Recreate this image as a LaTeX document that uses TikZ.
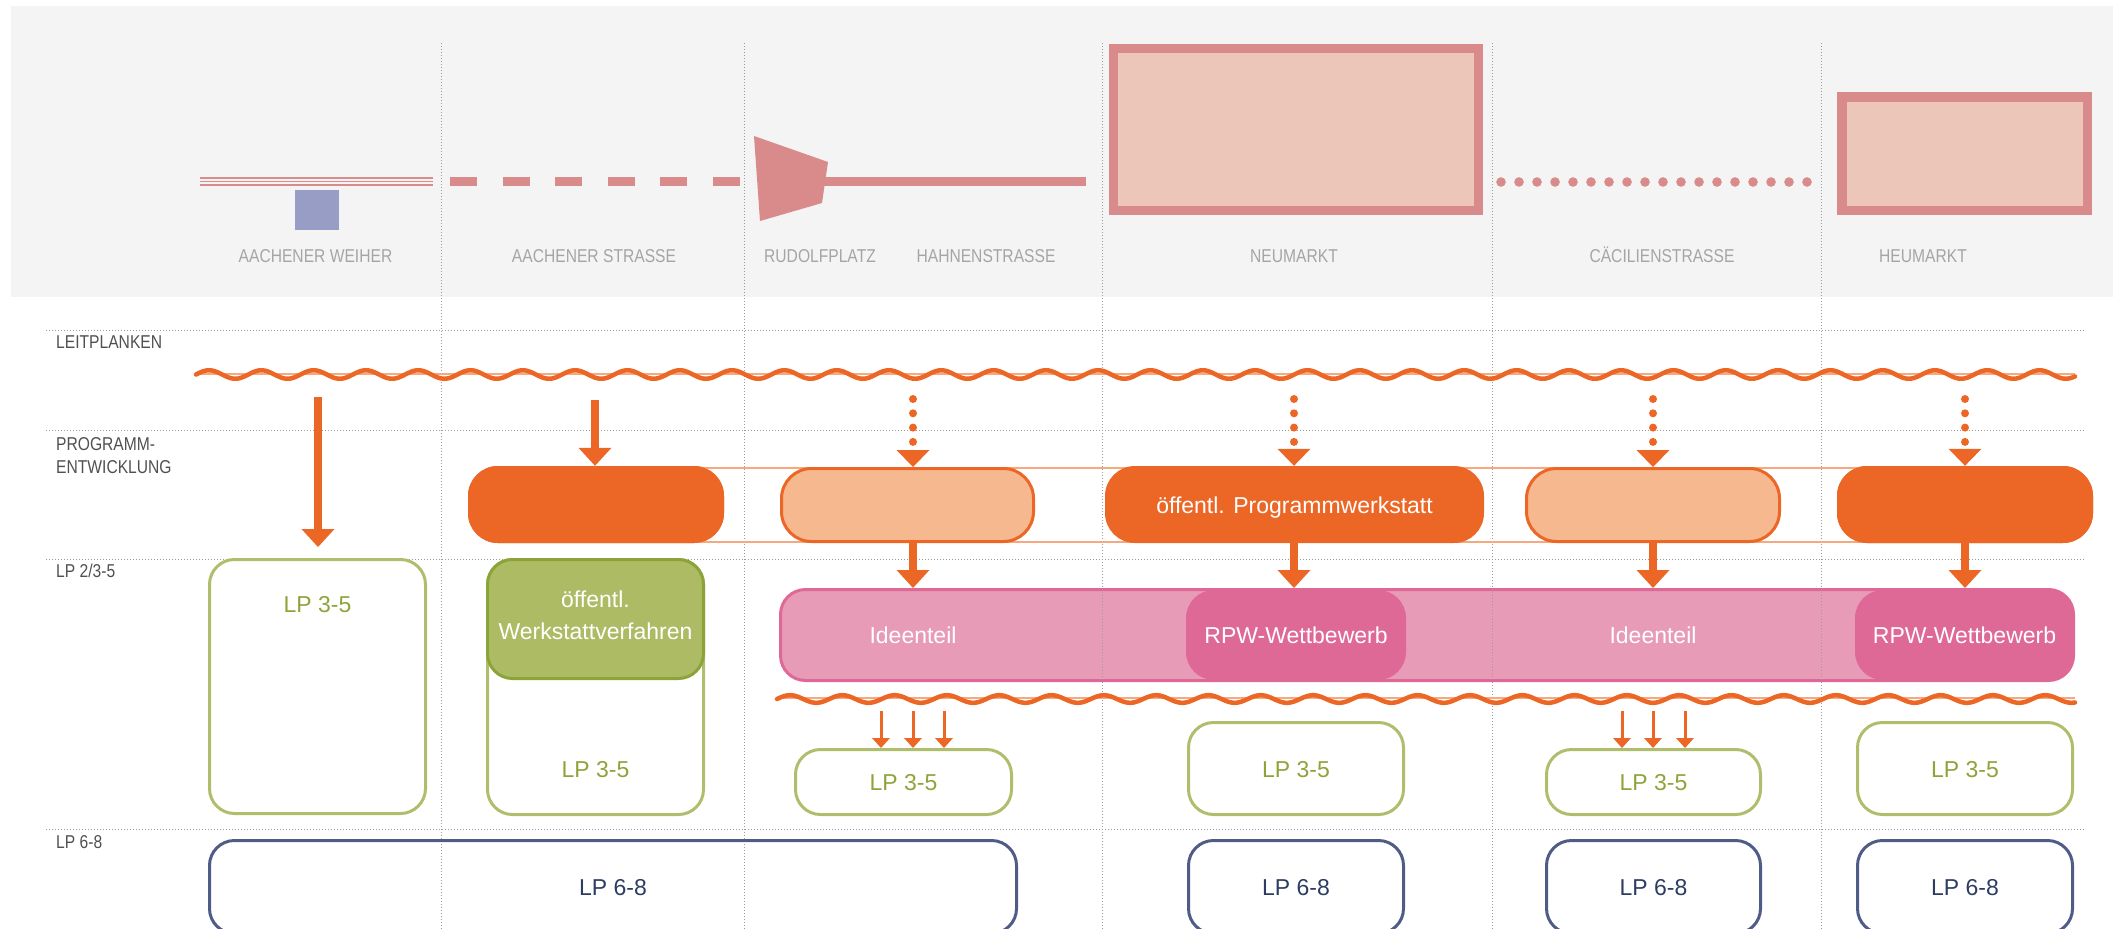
\documentclass[tikz,border=0pt]{standalone}
\usepackage{fontspec}
\setmainfont{Liberation Sans}
\newfontfamily\condfont{Liberation Sans}[FakeStretch=0.84]
\usetikzlibrary{arrows.meta}
\definecolor{cOr}{HTML}{EC6726}
\definecolor{cOrL}{HTML}{F6B88F}
\definecolor{cOrLine}{HTML}{F6A97E}
\definecolor{cPkL}{HTML}{E89BB6}
\definecolor{cPkD}{HTML}{DF6996}
\definecolor{cGrL}{HTML}{AFBE6C}
\definecolor{cGrF}{HTML}{AEBB65}
\definecolor{cGrD}{HTML}{8CA33A}
\definecolor{cGrT}{HTML}{8EA43A}
\definecolor{cNv}{HTML}{4F5C85}
\definecolor{cNvT}{HTML}{2D3C62}
\definecolor{cSal}{HTML}{D98A8A}
\definecolor{cSalF}{HTML}{EBC6B9}
\definecolor{cBlu}{HTML}{989DC5}
\definecolor{cBg}{HTML}{F4F4F4}
\definecolor{cGreyT}{HTML}{A5A5A5}
\definecolor{cGrid}{HTML}{9A9A9A}
\definecolor{cRow}{HTML}{505050}
\tikzset{
 boxtxt/.style={font=\fontsize{23}{27}\selectfont, text height=17pt, text depth=0pt, inner sep=0pt},
 obox/.style={boxtxt, fill=cOr, text=white, rounded corners=30pt, minimum height=77pt},
 lbox/.style={fill=cOrL, draw=cOr, line width=3pt, rounded corners=30pt, minimum height=73pt, inner sep=0pt},
 gbox/.style={boxtxt, draw=cGrL, line width=3pt, rounded corners=25pt, text=cGrT},
 nbox/.style={boxtxt, draw=cNv, line width=3pt, rounded corners=25pt, text=cNvT, minimum height=93pt},
 rpw/.style={boxtxt, fill=cPkD, text=white, rounded corners=28pt, minimum height=90pt},
 freetxt/.style={font=\fontsize{23}{27}\selectfont, inner sep=0pt, anchor=base},
 caplbl/.style={font=\condfont\fontsize{18.6}{22}\selectfont, text=cGreyT, anchor=base, inner sep=0pt},
 rowlbl/.style={font=\condfont\fontsize{18.6}{22}\selectfont, text=cRow, anchor=base west, inner sep=0pt},
 bigarr/.style={draw=cOr, line width=7.5pt, -{Triangle[length=18pt,width=33pt,line width=0pt]}},
 dotarr/.style={draw=cOr, line width=8pt, line cap=round, dash pattern=on 0pt off 14.3pt, -{Triangle[length=17pt,width=33pt,line width=0pt]}},
 smarr/.style={draw=cOr, line width=3pt, -{Triangle[length=10pt,width=18pt,line width=0pt]}},
 gridln/.style={draw=cGrid, line width=1pt, dash pattern=on 1pt off 2pt},
 railline/.style={draw=cOrLine, line width=1.5pt},
}
\begin{document}
\begin{tikzpicture}[x=1pt,y=-1pt]
\useasboundingbox (0,0) rectangle (2113,929);
% background of the top strip
\fill[cBg] (11,6) rectangle (2113,297);
% top graphics
\foreach \yy in {177.7,181.3,184.7} \draw[cSal, line width=1.6pt] (200,\yy) -- (433,\yy);
\fill[cBlu] (295,190) rectangle (339,230);
\draw[cSal, line width=9pt, dash pattern=on 27pt off 25.6pt] (450,181.5) -- (740,181.5);
\fill[cSal] (754,136) -- (828,162) -- (822,203) -- (760,221) -- cycle;
\fill[cSal] (822,177) rectangle (1086,186);
\draw[cSal, fill=cSalF, line width=9pt] (1113.5,48.5) rectangle (1478.5,210.5);
\foreach \i in {0,...,17} \fill[cSal] (1501+18*\i,182) circle (4.8pt);
\draw[cSal, fill=cSalF, line width=9.5pt] (1841.75,96.75) rectangle (2087.25,210.25);
% top labels
\node[caplbl] (t1) at (315.5,262) {AACHENER WEIHER};
\node[caplbl] (t2) at (594,262) {AACHENER STRASSE};
\node[caplbl] (t3) at (820,262) {RUDOLFPLATZ};
\node[caplbl] (t4) at (986,262) {HAHNENSTRASSE};
\node[caplbl] (t5) at (1294,262) {NEUMARKT};
\node[caplbl] (t6) at (1662,262) {CÄCILIENSTRASSE};
\node[caplbl] (t7) at (1923,262) {HEUMARKT};
% band
\node[fill=cPkL, draw=cPkD, line width=3pt, rounded corners=25pt, minimum width=1293pt, minimum height=91pt, inner sep=0pt] (band) at (1427,635) {};
\node[rpw, minimum width=220pt] (r1) at (1296,635) {RPW-Wettbewerb};
\node[rpw, minimum width=219pt] (r2) at (1964.5,635) {RPW-Wettbewerb};
% grid
\foreach \xx in {441,744,1102,1492,1821} \draw[gridln] (\xx,43) -- (\xx,929);
\foreach \yy in {330,430,559,829} \draw[gridln] (46,\yy) -- (2085,\yy);
% rails (waves)
\draw[railline] (196,374) -- (2075,374);
\draw[cOr, line width=4.5pt, line cap=round, line join=round] plot[domain=196:2075, samples=900] (\x, {374.5-4.25*sin(((\x-196)/52.3)*360)});
\draw[railline] (777,698) -- (2075,698);
\draw[cOr, line width=4.5pt, line cap=round, line join=round] plot[domain=777:2075, samples=700] (\x, {699-3.8*sin(((\x-777)/52.3)*360)});
% programme boxes
\node[obox, minimum width=256pt] (o1) at (596,504.5) {};
\node[obox, minimum width=256pt] (o3) at (1965,504.5) {};
\draw[railline] ([yshift=-2pt]o1.north) -- ([yshift=-2pt]o3.north);
\draw[railline] ([yshift=1pt]o1.south) -- ([yshift=1pt]o3.south);
\node[obox, minimum width=256pt] at (o1) {};
\node[obox, minimum width=256pt] at (o3) {};
\node[lbox, minimum width=252pt] (l1) at (907.5,505) {};
\node[obox, minimum width=379pt] (nm) at (1294.5,504.5) {öffentl. Programmwerkstatt};
\node[lbox, minimum width=253pt] (l2) at (1653,505) {};
% LP 2/3-5 boxes
\node[gbox, minimum width=216pt, minimum height=254pt] (g1) at (317.5,686.5) {};
\node[freetxt, text=cGrT] (g1t) at (317.5,612) {LP 3-5};
\node[gbox, minimum width=216pt, minimum height=255pt] (g2) at (595.5,687) {};
\node[freetxt, text=cGrT] (g2t) at (595.5,777) {LP 3-5};
\node[fill=cGrF, draw=cGrD, line width=3pt, rounded corners=25pt, minimum width=216pt, minimum height=119pt, inner sep=0pt] (gf) at (595.5,619) {};
\node[freetxt, text=white] (gf1) at (595.5,607) {öffentl.};
\node[freetxt, text=white] (gf2) at (595.5,639) {Werkstattverfahren};
\node[boxtxt, text=white] (i1) at (913,635) {Ideenteil};
\node[boxtxt, text=white] (i2) at (1653,635) {Ideenteil};
\node[gbox, minimum width=216pt, minimum height=65pt] (s1) at (903.5,782) {LP 3-5};
\node[gbox, minimum width=215pt, minimum height=92pt] (g3) at (1296,768.5) {LP 3-5};
\node[gbox, minimum width=214pt, minimum height=65pt] (s2) at (1653.5,782) {LP 3-5};
\node[gbox, minimum width=215pt, minimum height=92pt] (g4) at (1965,768.5) {LP 3-5};
% LP 6-8 boxes
\node[nbox, minimum width=807pt] (n1) at (613,887) {LP 6-8};
\node[nbox, minimum width=215pt] (n2) at (1296,887) {LP 6-8};
\node[nbox, minimum width=214pt] (n3) at (1653.5,887) {LP 6-8};
\node[nbox, minimum width=215pt] (n4) at (1965,887) {LP 6-8};
% arrow start points on the rails
\coordinate (w1) at (318,397);
\coordinate (w2) at (595,400);
\coordinate (w3) at (913,399);
\coordinate (w4) at (1294,399);
\coordinate (w5) at (1653,399);
\coordinate (w6) at (1965,399);
\coordinate (u1) at (881,711);
\coordinate (u2) at (913,711);
\coordinate (u3) at (944,711);
\coordinate (u4) at (1622,711);
\coordinate (u5) at (1653,711);
\coordinate (u6) at (1685,711);
% arrows
\draw[bigarr, shorten >=11pt] (w1) -- (w1 |- g1.north);
\draw[bigarr] (w2) -- (w2 |- o1.north);
\draw[dotarr] (w3) -- (w3 |- l1.north);
\draw[dotarr] (w4) -- (w4 |- nm.north);
\draw[dotarr] (w5) -- (w5 |- l2.north);
\draw[dotarr] (w6) -- (w6 |- o3.north);
\draw[bigarr] (w3 |- l1.south) -- (w3 |- band.north);
\draw[bigarr] (w4 |- nm.south) -- (w4 |- band.north);
\draw[bigarr] (w5 |- l2.south) -- (w5 |- band.north);
\draw[bigarr] (w6 |- o3.south) -- (w6 |- band.north);
\draw[smarr] (u1) -- (u1 |- s1.north);
\draw[smarr] (u2) -- (u2 |- s1.north);
\draw[smarr] (u3) -- (u3 |- s1.north);
\draw[smarr] (u4) -- (u4 |- s2.north);
\draw[smarr] (u5) -- (u5 |- s2.north);
\draw[smarr] (u6) -- (u6 |- s2.north);
% row labels
\node[rowlbl] (h1) at (56,348) {LEITPLANKEN};
\node[rowlbl] (h2) at (56,450) {PROGRAMM-};
\node[rowlbl] (h3) at (56,473) {ENTWICKLUNG};
\node[rowlbl] (h4) at (56,577) {LP 2/3-5};
\node[rowlbl] (h5) at (56,848) {LP 6-8};
\end{tikzpicture}
\end{document}
